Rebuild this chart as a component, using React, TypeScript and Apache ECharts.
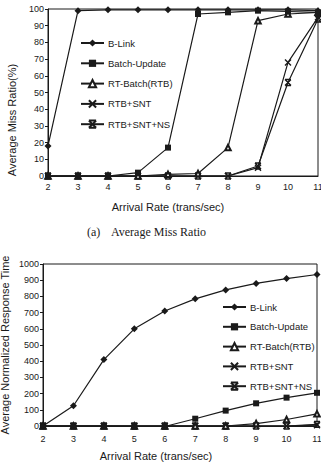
import React, { useEffect, useRef } from "react";
import * as echarts from "echarts";

const arrivalRates = [2, 3, 4, 5, 6, 7, 8, 9, 10, 11];
const seriesNames = ["B-Link", "Batch-Update", "RT-Batch(RTB)", "RTB+SNT", "RTB+SNT+NS"];

// (a) Average Miss Ratio (%)
const missBLink = [18, 99, 99.5, 99.5, 99.5, 99.5, 99.5, 99.5, 99.5, 99];
const missBatchUpdate = [0, 0, 0, 2, 17, 97, 98, 99, 98.5, 98];
const missRTB = [0, 0, 0, 0, 1, 1.5, 17, 93, 97, 98];
const missRTBSNT = [0, 0, 0, 0, 0, 0, 0, 5, 68, 95];
const missRTBSNTNS = [0, 0, 0, 0, 0, 0, 0, 6, 56, 94];

// (b) Average Normalized Response Time
const rtBLink = [0, 125, 410, 600, 710, 785, 840, 880, 910, 935];
const rtBatchUpdate = [0, 0, 0, -3, -3, 45, 95, 140, 175, 205];
const rtRTB = [0, 0, 0, 0, 0, 0, 0, 15, 40, 75];
const rtRTBSNT = [0, 0, 0, 0, 0, 0, 0, 0, 0, 5];
const rtRTBSNTNS = [0, 0, 0, 0, 0, 0, 0, 0, 0, 10];

const missTicks = { min: 0, max: 100, interval: 10 };
const rtTicks = { min: 0, max: 1000, interval: 100 };

const INK = "#1a1a1a";
const SANS = "Liberation Sans, Arial, sans-serif";
const SERIF = "Liberation Serif, Times New Roman, serif";

const symbolSpecs = [
  { symbol: "diamond", size: 7, itemStyle: { color: INK, borderWidth: 0 } },
  { symbol: "rect", size: 6, itemStyle: { color: INK, borderWidth: 0 } },
  { symbol: "emptyTriangle", size: 5.5, itemStyle: { color: INK, borderColor: INK, borderWidth: 1 } },
  { symbol: "path://M0,0L10,10M10,0L0,10", size: 6, itemStyle: { color: INK, borderColor: INK, borderWidth: 1.4 } },
  { symbol: "path://M0,0L10,10M10,0L0,10M0,0L10,0M0,10L10,10", size: 6, itemStyle: { color: INK, borderColor: INK, borderWidth: 1.4 } },
];

function makeSeries(values: number[][], axisIndex: number) {
  return values.map((vals, i) => ({
    name: seriesNames[i],
    type: "line",
    xAxisIndex: axisIndex,
    yAxisIndex: axisIndex,
    data: arrivalRates.map((x, j) => [x, vals[j]]),
    symbol: symbolSpecs[i].symbol,
    symbolSize: symbolSpecs[i].size,
    showAllSymbol: true,
    clip: false,
    lineStyle: { color: INK, width: 1.2, type: "solid" },
    itemStyle: symbolSpecs[i].itemStyle,
    z: 10 - i,
  }));
}

function xAxis(gridIndex: number, margin: number) {
  return {
    type: "value",
    gridIndex,
    min: 2,
    max: 11,
    interval: 1,
    axisLine: { show: true, lineStyle: { color: INK, width: 1 } },
    axisTick: { show: false },
    splitLine: { show: false },
    axisLabel: { color: INK, fontSize: 9, fontFamily: SANS, margin },
  };
}

function yAxis(gridIndex: number, t: { min: number; max: number; interval: number }) {
  return {
    type: "value",
    gridIndex,
    min: t.min,
    max: t.max,
    interval: t.interval,
    axisLine: { show: true, lineStyle: { color: INK, width: 1 } },
    axisTick: { show: true, length: 3, lineStyle: { color: INK } },
    splitLine: { show: false },
    axisLabel: {
      color: INK,
      fontSize: 9,
      fontFamily: SANS,
      margin: 4,
      formatter: (v: number) => String(v),
    },
  };
}

function legend(left: number, top: number, gap: number) {
  return {
    orient: "vertical",
    left,
    top,
    padding: 0,
    itemWidth: 23,
    itemHeight: 9,
    itemGap: gap,
    selectedMode: false,
    textStyle: { color: INK, fontSize: 9.5, fontFamily: SANS, padding: [0, 0, 0, -1] },
    data: seriesNames,
  };
}

export default function App() {
  const ref = useRef<HTMLDivElement>(null);

  useEffect(() => {
    if (!ref.current) return;
    const chart = echarts.init(ref.current, undefined, { renderer: "svg" });
    const W = 340;
    chart.setOption({
      animation: false,
      backgroundColor: "#fff",
      grid: [
        { left: 48, right: W - 318, top: 9, height: 167, show: true, borderColor: INK, borderWidth: 1 },
        { left: 43, right: W - 317, top: 264, height: 162, show: true, borderColor: INK, borderWidth: 1 },
      ],
      xAxis: [xAxis(0, 6), xAxis(1, 8)],
      yAxis: [yAxis(0, missTicks), yAxis(1, rtTicks)],
      legend: [legend(80, 38, 10.3), legend(222, 302, 9.8)],
      series: [
        ...makeSeries([missBLink, missBatchUpdate, missRTB, missRTBSNT, missRTBSNTNS], 0),
        ...makeSeries([rtBLink, rtBatchUpdate, rtRTB, rtRTBSNT, rtRTBSNTNS], 1),
      ],
      graphic: [
        {
          type: "text",
          x: 12,
          y: 120,
          rotation: Math.PI / 2,
          style: { text: "Average Miss Ratio(%)", fill: INK, font: `11px ${SANS}`, align: "center", verticalAlign: "middle" },
        },
        {
          type: "text",
          x: 5,
          y: 345,
          rotation: Math.PI / 2,
          style: { text: "Average Normalized Response Time", fill: INK, font: `11px ${SANS}`, align: "center", verticalAlign: "middle" },
        },
        {
          type: "text",
          x: 168,
          y: 207,
          style: { text: "Arrival Rate (trans/sec)", fill: INK, font: `11px ${SANS}`, align: "center", verticalAlign: "middle" },
        },
        {
          type: "text",
          x: 156,
          y: 456,
          style: { text: "Arrival Rate (trans/sec)", fill: INK, font: `11px ${SANS}`, align: "center", verticalAlign: "middle" },
        },
        {
          type: "text",
          x: 87,
          y: 232,
          style: { text: "(a)", fill: INK, font: `12px ${SERIF}`, align: "left", verticalAlign: "middle" },
        },
        {
          type: "text",
          x: 111,
          y: 232,
          style: { text: "Average Miss Ratio", fill: INK, font: `12px ${SERIF}`, align: "left", verticalAlign: "middle" },
        },
      ],
    });
    return () => chart.dispose();
  }, []);

  return (
    <div style={{ position: "fixed", left: 0, top: 0, width: 321, height: 462, overflow: "hidden", background: "#fff" }}>
      <div ref={ref} style={{ width: 340, height: 462 }} />
    </div>
  );
}
